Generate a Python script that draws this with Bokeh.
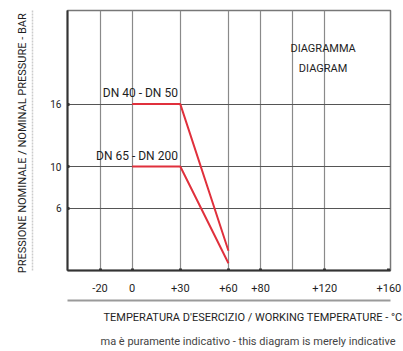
from bokeh.plotting import figure
from bokeh.models import FixedTicker, LinearAxis, Title, Range1d
from bokeh.core.properties import value
from bokeh.embed import file_html
from bokeh.resources import INLINE

# ---- data ----
temp_ticks = [-20, 0, 30, 60, 80, 120, 160]
temp_labels = ["-20", "0", "+30", "+60", "+80", "+120", "+160"]
grid_temps = [-20, 0, 30, 60, 80, 100, 120]
press_ticks = [6, 10, 16]
press_labels = ["6", "10", "16"]

dn40_temp = [0, 30, 60]
dn40_press = [16, 16, 1.9]
dn65_temp = [0, 30, 60]
dn65_press = [10, 10, 0.7]
series_names = ["DN 40 - DN 50", "DN 65 - DN 200"]

box_title = ["DIAGRAMMA", "DIAGRAM"]

x_title = "TEMPERATURA D'ESERCIZIO / WORKING TEMPERATURE  -  °C"
y_title = "PRESSIONE NOMINALE / NOMINAL PRESSURE  -  BAR"
footnote = "ma è puramente indicativo - this diagram is merely indicative"

FONT = "Roboto"
INK = "#1e1e1e"
RED = "#e0303c"

p = figure(width=403, height=351,
           x_range=Range1d(-40.3, 161), y_range=Range1d(0, 25),
           output_backend="svg", toolbar_location=None,
           min_border_left=67, min_border_right=13,
           min_border_top=10, min_border_bottom=81)
p.background_fill_color = "white"
p.border_fill_color = "white"
p.outline_line_color = "#777777"
p.outline_line_width = 1.5

# grid
p.xgrid.ticker = FixedTicker(ticks=grid_temps)
p.ygrid.ticker = FixedTicker(ticks=press_ticks)
p.xgrid.grid_line_color = "#8a8a8a"
p.xgrid.grid_line_width = 1.2
p.ygrid.grid_line_color = "#555555"
p.ygrid.grid_line_width = 1.2

# x axis
xa = p.xaxis[0]
xa.ticker = FixedTicker(ticks=temp_ticks)
xa.major_label_overrides = {t: l for t, l in zip(temp_ticks, temp_labels)}
xa.axis_line_color = "#333333"
xa.axis_line_width = 2
xa.major_tick_in = 2
xa.major_tick_out = 0
xa.major_tick_line_color = "#333333"
xa.major_tick_line_width = 3
xa.minor_tick_line_color = None
xa.major_label_standoff = 13
xa.major_label_text_font = FONT
xa.major_label_text_font_size = "11px"
xa.major_label_text_color = INK
xa.axis_label = " "
xa.axis_label_text_font_size = "3px"
xa.axis_label_standoff = 0

# y axis
ya = p.yaxis[0]
ya.ticker = FixedTicker(ticks=press_ticks)
ya.major_label_overrides = {t: l for t, l in zip(press_ticks, press_labels)}
ya.axis_line_color = "#333333"
ya.axis_line_width = 2
ya.major_tick_in = 2
ya.major_tick_out = 0
ya.major_tick_line_color = "#333333"
ya.major_tick_line_width = 3
ya.minor_tick_line_color = None
ya.major_label_standoff = 6
ya.major_label_text_font = FONT
ya.major_label_text_font_size = "10px"
ya.major_label_text_color = INK
ya.axis_label = " "
ya.axis_label_text_font_size = "10px"
ya.axis_label_standoff = 1

# extra left axis: faint rule + y title
ya2 = LinearAxis(ticker=FixedTicker(ticks=[]), axis_line_color="#cccccc",
                 axis_line_width=1.5, axis_line_dash="2 1",
                 major_tick_line_color=None,
                 minor_tick_line_color=None, axis_label=y_title,
                 axis_label_standoff=4, axis_label_text_font=FONT,
                 axis_label_text_font_size="11px",
                 axis_label_text_font_style="normal",
                 axis_label_text_color=INK)
p.add_layout(ya2, "left")

# extra bottom axis: grey rule under tick labels
xa2 = LinearAxis(ticker=FixedTicker(ticks=[]), axis_line_color="#9a9a9a",
                 axis_line_width=2, major_tick_line_color=None,
                 minor_tick_line_color=None)
p.add_layout(xa2, "below")

p.add_layout(Title(text=x_title, align="left", offset=36, vertical_align="middle",
                   text_font=FONT, text_font_size="11px",
                   text_font_style="normal", text_color=INK, standoff=18), "below")
p.add_layout(Title(text=footnote, align="left", offset=33, vertical_align="middle",
                   text_font=FONT, text_font_size="11px",
                   text_font_style="normal", text_color="#444444", standoff=0), "below")

# curves
p.line(dn40_temp, dn40_press, line_color=RED, line_width=2)
p.line(dn65_temp, dn65_press, line_color=RED, line_width=2)

# series labels
p.text(x=[28.5, 28.5], y=[dn40_press[0], dn65_press[0]], text=series_names,
       text_align="right", text_baseline="bottom", y_offset=-4,
       text_font=value(FONT), text_font_size="12px", text_color=INK)

# box title
p.text(x=[119, 119], y=[21.3, 19.4], text=box_title,
       text_align="center", text_baseline="middle",
       text_font=value(FONT), text_font_size="11px", text_color=INK)

open("out.html", "w").write(file_html(p, INLINE))
